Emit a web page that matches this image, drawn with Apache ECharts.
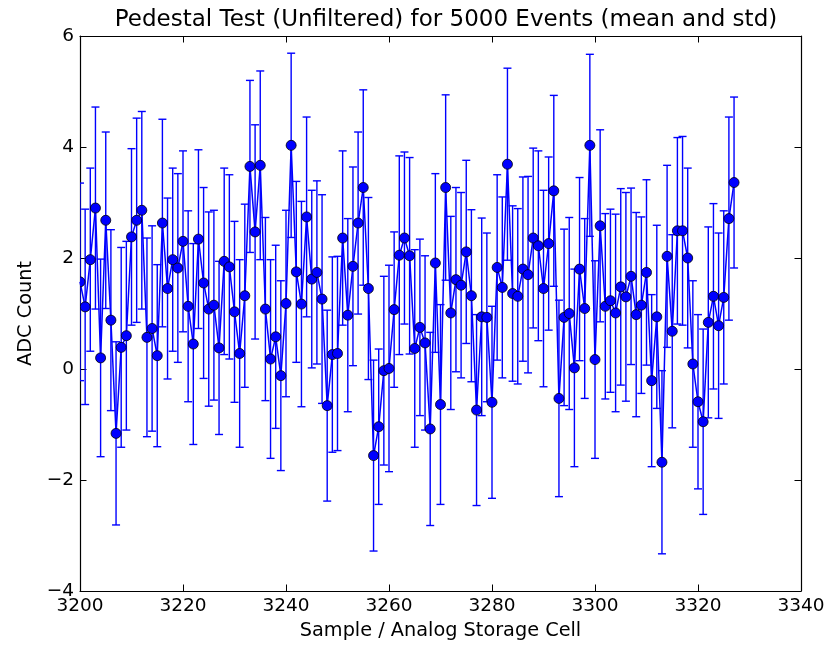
<!DOCTYPE html>
<html><head><meta charset="utf-8">
<script src="https://cdn.jsdelivr.net/npm/echarts@6/dist/echarts.min.js"></script>
<style>html,body{margin:0;padding:0;background:#fff}#c{width:840px;height:645px}</style>
</head><body><div id="c"></div>
<script>
const cells = [3200,3201,3202,3203,3204,3205,3206,3207,3208,3209,3210,3211,3212,3213,3214,3215,
3216,3217,3218,3219,3220,3221,3222,3223,3224,3225,3226,3227,3228,3229,3230,3231,
3232,3233,3234,3235,3236,3237,3238,3239,3240,3241,3242,3243,3244,3245,3246,3247,
3248,3249,3250,3251,3252,3253,3254,3255,3256,3257,3258,3259,3260,3261,3262,3263,
3264,3265,3266,3267,3268,3269,3270,3271,3272,3273,3274,3275,3276,3277,3278,3279,
3280,3281,3282,3283,3284,3285,3286,3287,3288,3289,3290,3291,3292,3293,3294,3295,
3296,3297,3298,3299,3300,3301,3302,3303,3304,3305,3306,3307,3308,3309,3310,3311,
3312,3313,3314,3315,3316,3317,3318,3319,3320,3321,3322,3323,3324,3325,3326,3327];
const means = [1.57,1.12,1.97,2.90,0.20,2.68,0.88,-1.16,0.39,0.60,2.38,2.68,2.86,0.57,0.73,0.24,
2.63,1.45,1.97,1.82,2.30,1.13,0.45,2.34,1.55,1.08,1.15,0.38,1.94,1.84,1.03,0.28,
1.32,3.65,2.47,3.67,1.08,0.18,0.58,-0.12,1.18,4.03,1.75,1.17,2.74,1.62,1.74,1.26,
-0.66,0.26,0.28,2.36,0.97,1.85,2.63,3.27,1.45,-1.56,-1.04,-0.03,0.01,1.07,2.05,2.36,
2.04,0.37,0.75,0.47,-1.08,1.91,-0.64,3.27,1.01,1.61,1.51,2.11,1.32,-0.74,0.94,0.93,
-0.60,1.83,1.47,3.69,1.36,1.31,1.80,1.70,2.36,2.22,1.45,2.26,3.21,-0.53,0.93,1.00,
0.02,1.80,1.09,4.03,0.17,2.58,1.13,1.23,1.01,1.48,1.30,1.67,0.98,1.15,1.74,-0.21,
0.94,-1.68,2.03,0.68,2.49,2.49,2.00,0.09,-0.59,-0.95,0.84,1.31,0.78,1.29,2.71,3.36];
const stds = [1.78,1.76,1.65,1.82,1.78,1.59,1.63,1.65,1.80,1.70,1.59,1.84,1.78,1.79,1.85,1.64,
1.87,1.63,1.65,1.70,1.63,1.72,1.81,1.61,1.72,1.75,1.71,1.56,1.68,1.66,1.63,1.69,
1.65,1.55,1.93,1.70,1.65,1.79,1.65,1.71,1.68,1.66,1.63,1.85,1.80,1.60,1.65,1.88,
1.72,1.76,1.75,1.57,1.74,1.79,1.64,1.76,1.64,1.72,1.40,1.70,1.86,1.40,1.79,1.55,
1.77,1.78,1.59,1.57,1.74,1.61,1.80,1.67,1.74,1.66,1.67,1.65,1.55,1.72,1.78,1.52,
1.73,1.67,1.63,1.73,1.58,1.58,1.66,1.77,1.62,1.71,1.77,1.56,1.72,1.77,1.59,1.73,
1.78,1.65,1.62,1.64,1.78,1.73,1.67,1.65,1.78,1.77,1.88,1.59,1.84,1.59,1.67,1.55,
1.65,1.65,1.64,1.74,1.68,1.70,1.62,1.50,1.57,1.67,1.72,1.67,1.67,1.56,1.83,1.54];
const xMin = 3200, xMax = 3340, xStep = 20;
const yMin = -4, yMax = 6, yStep = 2;

const FONT = 'DejaVu Sans';
const BLUE = '#0000ff';
const lineData = cells.map((c, i) => [c, means[i]]);
const errData = cells.map((c, i) => [c, means[i] - stds[i], means[i] + stds[i]]);
const fmtNum = v => (v < 0 ? '\u2212' + Math.abs(v) : String(v));

const tick = {inside: true, length: 6.5, lineStyle: {color: '#000', width: 1}};
const axLine = {show: true, onZero: false, lineStyle: {color: '#000', width: 1.2}};
const lbl = {color: '#000', fontFamily: FONT, fontSize: 18.5, formatter: fmtNum};
const nameStyle = {fontFamily: FONT, fontSize: 19.3, color: '#000'};

const chart = echarts.init(document.getElementById('c'), null, {renderer: 'canvas'});
chart.setOption({
  animation: false,
  backgroundColor: '#fff',
  title: {
    text: 'Pedestal Test (Unfiltered) for 5000 Events (mean and std)',
    left: 441, top: 4, textAlign: 'center',
    textStyle: {fontFamily: FONT, fontSize: 23, fontWeight: 'normal', color: '#000'}
  },
  grid: {left: 80, right: 39, top: 36, bottom: 51, containLabel: false},
  xAxis: [
    {type: 'value', min: xMin, max: xMax, interval: xStep, position: 'bottom',
     axisLine: axLine, axisTick: tick, splitLine: {show: false},
     axisLabel: Object.assign({margin: 6}, lbl),
     name: 'Sample / Analog Storage Cell', nameLocation: 'middle', nameGap: 30,
     nameTextStyle: nameStyle},
    {type: 'value', min: xMin, max: xMax, interval: xStep, position: 'top',
     axisLine: axLine, axisTick: tick, splitLine: {show: false}, axisLabel: {show: false}}
  ],
  yAxis: [
    {type: 'value', min: yMin, max: yMax, interval: yStep, position: 'left',
     axisLine: axLine, axisTick: tick, splitLine: {show: false},
     axisLabel: Object.assign({margin: 6}, lbl),
     name: 'ADC Count', nameLocation: 'middle', nameGap: 40, nameRotate: 90,
     nameTextStyle: nameStyle},
    {type: 'value', min: yMin, max: yMax, interval: yStep, position: 'right',
     axisLine: axLine, axisTick: tick, splitLine: {show: false}, axisLabel: {show: false}}
  ],
  series: [
    {
      type: 'custom', xAxisIndex: 0, yAxisIndex: 0, clip: true, z: 2,
      data: errData,
      encode: {x: 0, y: [1, 2]},
      renderItem: function (params, api) {
        const x = api.value(0);
        const lo = api.coord([x, api.value(1)]);
        const hi = api.coord([x, api.value(2)]);
        const cw = 4;
        const st = {stroke: BLUE, lineWidth: 1.4};
        return {type: 'group', children: [
          {type: 'line', shape: {x1: lo[0], y1: lo[1], x2: hi[0], y2: hi[1]}, style: st},
          {type: 'line', shape: {x1: lo[0] - cw, y1: lo[1], x2: lo[0] + cw, y2: lo[1]}, style: st},
          {type: 'line', shape: {x1: hi[0] - cw, y1: hi[1], x2: hi[0] + cw, y2: hi[1]}, style: st}
        ]};
      }
    },
    {
      type: 'line', xAxisIndex: 0, yAxisIndex: 0, z: 3, clip: true,
      data: lineData, symbol: 'none',
      lineStyle: {color: BLUE, width: 1.5}
    },
    {
      type: 'custom', xAxisIndex: 0, yAxisIndex: 0, clip: true, z: 4,
      data: lineData,
      encode: {x: 0, y: 1},
      renderItem: function (params, api) {
        const p = api.coord([api.value(0), api.value(1)]);
        return {type: 'circle', shape: {cx: p[0], cy: p[1], r: 5},
                style: {fill: BLUE, stroke: '#000', lineWidth: 0.8}};
      }
    }
  ]
});
</script></body></html>
